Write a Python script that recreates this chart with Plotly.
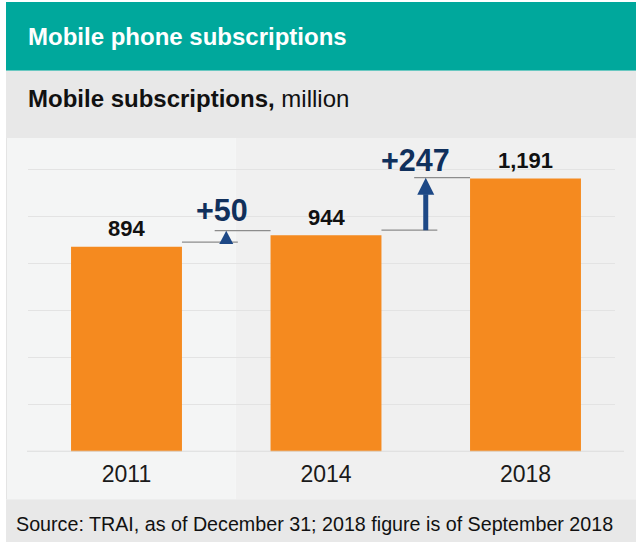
import plotly.graph_objects as go

# Data
years = ["2011", "2014", "2018"]
subscriptions = [894, 944, 1191]  # million

W, H = 636, 542
FONT = "Arial, Liberation Sans, sans-serif"
TEAL = "#00a89c"
ORANGE = "#f58a1f"
NAVY_TEXT = "#10305c"
NAVY = "#1d4886"
GREY_LINE = "#8c8c8c"

# Pixel layout helpers (paper coordinates)
def px_x(p):
    return p / W

def px_y(p):
    return 1 - p / H

# Plot area
y_top_px, y_base_px = 138, 451.7
units_per_px = 1 / 0.2293
y_max = (y_base_px - y_top_px) * units_per_px
x_left_px, x_right_px = 28, 615
cat_px = 199.5
first_center_px = 126.5
x_range = [-(first_center_px - x_left_px) / cat_px,
           (len(years) - 1) + (x_right_px - (first_center_px + cat_px * (len(years) - 1))) / cat_px]
bar_w = 0.556

xs = list(range(len(years)))

fig = go.Figure()
fig.add_trace(go.Bar(
    x=xs, y=subscriptions, width=bar_w,
    marker=dict(color=ORANGE, line=dict(width=0)),
    hoverinfo="skip",
))

shapes = []
# Backgrounds
shapes.append(dict(type="rect", xref="paper", yref="paper", layer="below",
                   x0=px_x(6), x1=1, y0=px_y(70.7), y1=px_y(2),
                   fillcolor=TEAL, line=dict(width=0)))
shapes.append(dict(type="rect", xref="paper", yref="paper", layer="below",
                   x0=px_x(6), x1=1, y0=px_y(138), y1=px_y(70.7),
                   fillcolor="#e8e8e8", line=dict(width=0)))
shapes.append(dict(type="rect", xref="paper", yref="paper", layer="below",
                   x0=px_x(6), x1=px_x(235.7), y0=px_y(499.3), y1=px_y(138),
                   fillcolor="#f4f5f5", line=dict(width=0)))
shapes.append(dict(type="rect", xref="paper", yref="paper", layer="below",
                   x0=px_x(235.7), x1=1, y0=px_y(499.3), y1=px_y(138),
                   fillcolor="#f0f0f0", line=dict(width=0)))
shapes.append(dict(type="rect", xref="paper", yref="paper", layer="below",
                   x0=px_x(6), x1=1, y0=0, y1=px_y(499.3),
                   fillcolor="#e8e8e8", line=dict(width=0)))
shapes.append(dict(type="line", xref="paper", yref="paper", layer="below",
                   x0=px_x(6.5), x1=px_x(6.5), y0=px_y(499.3), y1=px_y(138),
                   line=dict(color="#e4e4e4", width=1)))
# Baseline
shapes.append(dict(type="line", xref="paper", yref="y",
                   x0=px_x(27), x1=px_x(624), y0=0, y1=0,
                   line=dict(color="#dcdcdc", width=2)))

annotations = []
# Value labels above bars
for x, v in zip(xs, subscriptions):
    annotations.append(dict(x=x, y=v, xref="x", yref="y", text=f"<b>{v:,}</b>",
                            showarrow=False, yanchor="middle", yshift=18,
                            font=dict(family=FONT, size=22, color="#111111")))

# Change connectors between consecutive bars
seg = 0.28  # connector length in category units
lower_pad = [20, 22]
upper_pad = [20, 4]
text_shift = [21, 18]
text_dx = [-0.02, -0.05]
for i in range(len(subscriptions) - 1):
    a, b = subscriptions[i], subscriptions[i + 1]
    delta = b - a
    lo = a + lower_pad[i]
    hi = b + upper_pad[i]
    left_edge = xs[i] + bar_w / 2
    right_edge = xs[i + 1] - bar_w / 2
    mid = (xs[i] + xs[i + 1]) / 2
    shapes.append(dict(type="line", xref="x", yref="y",
                       x0=left_edge, x1=left_edge + seg, y0=lo, y1=lo,
                       line=dict(color=GREY_LINE, width=1.3)))
    shapes.append(dict(type="line", xref="x", yref="y",
                       x0=right_edge - seg, x1=right_edge, y0=hi, y1=hi,
                       line=dict(color=GREY_LINE, width=1.3)))
    head_h = 17 * units_per_px
    head_half = (8.5 if delta > 100 else 7) / cat_px
    tip = hi
    if delta > 100:
        base = tip - head_h
        shapes.append(dict(type="line", xref="x", yref="y",
                           x0=mid, x1=mid, y0=lo, y1=base + 2,
                           line=dict(color=NAVY, width=5)))
    else:
        base = lo - 8
    shapes.append(dict(type="path", xref="x", yref="y",
                       path=f"M {mid - head_half},{base} L {mid + head_half},{base} L {mid},{tip} Z",
                       fillcolor=NAVY, line=dict(width=0)))
    annotations.append(dict(x=mid + text_dx[i], y=hi, xref="x", yref="y",
                            text=f"<b>+{delta}</b>", showarrow=False,
                            yanchor="middle", yshift=text_shift[i],
                            font=dict(family=FONT, size=30.5, color=NAVY_TEXT)))

# Header, subtitle and source
annotations.append(dict(x=px_x(26), y=px_y(37), xref="paper", yref="paper",
                        xanchor="left", yanchor="middle", showarrow=False,
                        text="<b>Mobile phone subscriptions</b>",
                        font=dict(family=FONT, size=24, color="white")))
annotations.append(dict(x=px_x(26), y=px_y(98), xref="paper", yref="paper",
                        xanchor="left", yanchor="middle", showarrow=False,
                        text="<b>Mobile subscriptions,</b> million",
                        font=dict(family=FONT, size=24, color="#111111")))
annotations.append(dict(x=px_x(14), y=px_y(524), xref="paper", yref="paper",
                        xanchor="left", yanchor="middle", showarrow=False,
                        text="Source: TRAI, as of December 31; 2018 figure is of September 2018",
                        font=dict(family=FONT, size=19.7, color="#111111")))

fig.update_layout(
    width=W, height=H,
    margin=dict(l=0, r=0, t=0, b=0),
    paper_bgcolor="white",
    plot_bgcolor="rgba(0,0,0,0)",
    showlegend=False,
    shapes=shapes,
    annotations=annotations,
    xaxis=dict(domain=[px_x(x_left_px), px_x(x_right_px)], range=x_range,
               tickvals=xs, ticktext=years, showgrid=False, zeroline=False,
               showline=False, ticks="", ticklabelstandoff=6,
               tickfont=dict(family=FONT, size=23, color="#1a1a1a"),
               fixedrange=True),
    yaxis=dict(domain=[px_y(y_base_px), px_y(y_top_px)], range=[0, y_max],
               tick0=0, dtick=205.3, showgrid=True, gridcolor="#e3e3e3",
               gridwidth=1.3, zeroline=False, showline=False,
               showticklabels=False, ticks="", fixedrange=True),
)

fig.write_html("out.html")
